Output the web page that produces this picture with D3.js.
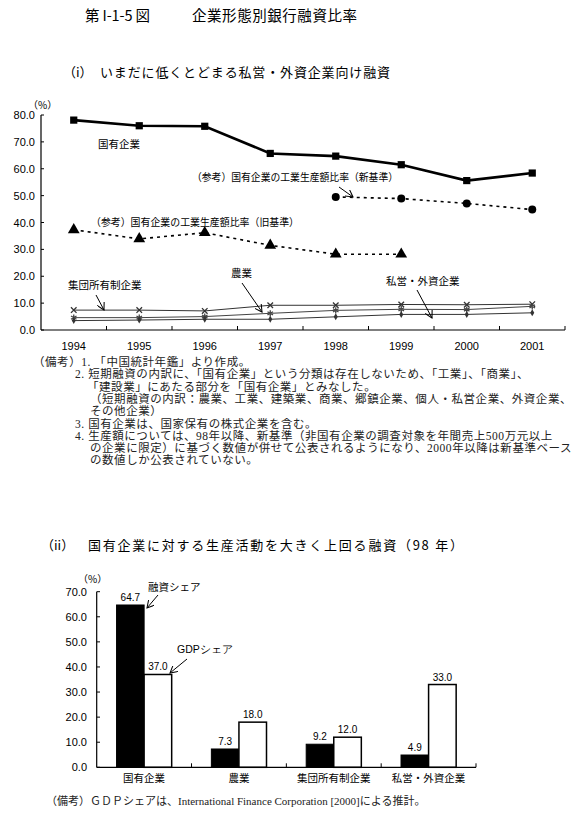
<!DOCTYPE html>
<html><head><meta charset="utf-8">
<script src="https://cdn.jsdelivr.net/npm/d3@7"></script>
<style>
body{margin:0;background:#fff;}
svg{display:block;}
.jp{font-family:"Noto Sans CJK JP","Noto Sans",sans-serif;}
.num{font-family:"Liberation Sans",Arial,sans-serif;}
.serif{font-family:"Liberation Serif","Noto Sans CJK JP",serif;}
</style></head>
<body>
<script>
// ---------- data ----------
const years = ["1994","1995","1996","1997","1998","1999","2000","2001"];
const stateOwned = [78.1, 76.0, 75.8, 65.7, 64.7, 61.5, 55.6, 58.4];
const newStandard = [null, null, null, null, 49.5, 48.9, 47.1, 44.8];
const oldStandard = [37.3, 33.9, 36.2, 31.5, 28.2, 28.2, null, null];
const collective = [7.4, 7.4, 7.1, 9.2, 9.2, 9.5, 9.4, 9.6];
const agriculture = [4.6, 4.6, 5.0, 6.2, 7.3, 7.7, 7.6, 8.8];
const privateForeign = [3.5, 3.7, 4.0, 4.0, 4.9, 5.8, 5.8, 6.4];
const yTicksTop = [0, 10, 20, 30, 40, 50, 60, 70, 80];

const barCategories = ["国有企業", "農業", "集団所有制企業", "私営・外資企業"];
const loanShare = [64.7, 7.3, 9.2, 4.9];
const gdpShare = [37.0, 18.0, 12.0, 33.0];
const yTicksBottom = [0, 10, 20, 30, 40, 50, 60, 70];

const notes = [
  "（備考）1. 「中国統計年鑑」より作成。",
  "2. 短期融資の内訳に、「国有企業」という分類は存在しないため、「工業」、「商業」、",
  "「建設業」にあたる部分を「国有企業」とみなした。",
  "（短期融資の内訳：農業、工業、建築業、商業、郷鎮企業、個人・私営企業、外資企業、",
  "その他企業）",
  "3. 国有企業は、国家保有の株式企業を含む。",
  "4. 生産額については、98年以降、新基準（非国有企業の調査対象を年間売上500万元以上",
  "の企業に限定）に基づく数値が併せて公表されるようになり、2000年以降は新基準ベース",
  "の数値しか公表されていない。"
];

// ---------- svg ----------
const svg = d3.select("body").append("svg").attr("width",581).attr("height",820);
const defs = svg.append("defs");
defs.append("marker").attr("id","arr").attr("viewBox","0 0 10 10").attr("refX",9).attr("refY",5)
  .attr("markerWidth",8).attr("markerHeight",8).attr("markerUnits","userSpaceOnUse").attr("orient","auto")
  .append("path").attr("d","M0,0 L9,5 L0,10").attr("fill","none").attr("stroke","#000").attr("stroke-width",1.3);

// titles
svg.append("text").attr("class","jp").attr("x",85).attr("y",21).attr("font-size",14.5)
  .attr("textLength",65).attr("lengthAdjust","spacing").text("第 I-1-5 図");
svg.append("text").attr("class","jp").attr("x",192).attr("y",21).attr("font-size",14.5)
  .attr("textLength",165).attr("lengthAdjust","spacing").text("企業形態別銀行融資比率");
svg.append("text").attr("class","jp").attr("x",63).attr("y",77).attr("font-size",13).text("（i）");
svg.append("text").attr("class","jp").attr("x",100).attr("y",77).attr("font-size",13)
  .attr("textLength",290).attr("lengthAdjust","spacing").text("いまだに低くとどまる私営・外資企業向け融資");

// ---------- top chart ----------
const x = d3.scaleBand().domain(years).range([41,565]);
const y = d3.scaleLinear().domain([0,80]).range([330,115]);
const gTop = svg.append("g");

gTop.append("line").attr("x1",41).attr("x2",41).attr("y1",y(80)).attr("y2",y(0)).attr("stroke","#000").attr("stroke-width",1.2);
gTop.append("line").attr("x1",41).attr("x2",565).attr("y1",y(0)).attr("y2",y(0)).attr("stroke","#000").attr("stroke-width",1.2);
gTop.selectAll(".xt").data(years).enter().append("line")
  .attr("x1",d=>x(d)+x.bandwidth()).attr("x2",d=>x(d)+x.bandwidth())
  .attr("y1",y(0)).attr("y2",y(0)-4).attr("stroke","#000");
gTop.selectAll(".yt").data(yTicksTop).enter().append("line")
  .attr("x1",41).attr("x2",44).attr("y1",d=>y(d)).attr("y2",d=>y(d)).attr("stroke","#000");
gTop.selectAll(".yl").data(yTicksTop).enter().append("text").attr("class","num")
  .attr("x",35).attr("y",d=>y(d)+4).attr("text-anchor","end").attr("font-size",11).text(d=>d.toFixed(1));
gTop.selectAll(".xl").data(years).enter().append("text").attr("class","num")
  .attr("x",d=>x(d)+x.bandwidth()/2).attr("y",350).attr("text-anchor","middle").attr("font-size",11).text(d=>d);
gTop.append("text").attr("class","jp").attr("x",28).attr("y",109).attr("font-size",10).text("（%）");

const cx = (d,i)=>x(years[i])+x.bandwidth()/2;
function series(vals, opts){
  const pts = vals.map((v,i)=>v==null?null:[cx(v,i), y(v)]).filter(p=>p);
  gTop.append("path").attr("d", d3.line()(pts)).attr("fill","none")
    .attr("stroke",opts.color||"#000").attr("stroke-width",opts.w)
    .attr("stroke-dasharray",opts.dash||null);
  const sym = d3.symbol().type(opts.sym).size(opts.size);
  gTop.selectAll(null).data(pts).enter().append("path")
    .attr("transform",p=>`translate(${p[0]},${p[1]})`).attr("d",sym())
    .attr("fill",opts.fill).attr("stroke",opts.stroke||"none").attr("stroke-width",opts.sw||1);
}
series(collective,{w:1,color:"#333",sym:d3.symbolX,size:22,fill:"none",stroke:"#333",sw:1.3});
series(agriculture,{w:1,color:"#444",sym:d3.symbolAsterisk,size:28,fill:"none",stroke:"#444",sw:1.3});
series(privateForeign,{w:1,color:"#333",sym:d3.symbolDiamond,size:14,fill:"#333"});
series(oldStandard,{w:1.6,dash:"3,4",sym:d3.symbolTriangle,size:60,fill:"#000"});
series(newStandard,{w:1.6,dash:"3,4",sym:d3.symbolCircle,size:50,fill:"#000"});
series(stateOwned,{w:2.6,sym:d3.symbolSquare,size:52,fill:"#000"});

const ann = [
  {t:"国有企業", x:98, y:148},
  {t:"（参考）国有企業の工業生産額比率（新基準）", x:192, y:181, len:206},
  {t:"（参考）国有企業の工業生産額比率（旧基準）", x:91, y:226, len:208},
  {t:"集団所有制企業", x:68, y:289},
  {t:"農業", x:231, y:277},
  {t:"私営・外資企業", x:386, y:285}
];
ann.forEach(a=>{
  const t = gTop.append("text").attr("class","jp").attr("x",a.x).attr("y",a.y).attr("font-size",10.5).text(a.t);
  if(a.len) t.attr("textLength",a.len).attr("lengthAdjust","spacingAndGlyphs");
});
const arrows = [[339,187,353,197],[96,295,104,310],[242,283,262,312],[417,290,432,318]];
gTop.selectAll(".ar").data(arrows).enter().append("line")
  .attr("x1",d=>d[0]).attr("y1",d=>d[1]).attr("x2",d=>d[2]).attr("y2",d=>d[3])
  .attr("stroke","#000").attr("stroke-width",1).attr("marker-end","url(#arr)");

// notes
const noteX = [33,75,87,90,90,75,75,90,90];
svg.selectAll(".note").data(notes).enter().append("text").attr("class","serif")
  .attr("x",(d,i)=>noteX[i]).attr("y",(d,i)=>366+i*12.3).attr("font-size",11.5)
  .attr("letter-spacing",0.55).attr("fill","#222").text(d=>d);

// ---------- bottom chart ----------
svg.append("text").attr("class","jp").attr("x",41).attr("y",550).attr("font-size",13).text("（ii）");
svg.append("text").attr("class","jp").attr("x",88).attr("y",550).attr("font-size",13)
  .attr("textLength",375).attr("lengthAdjust","spacing").text("国有企業に対する生産活動を大きく上回る融資（98 年）");

const xb = d3.scaleBand().domain(barCategories).range([96.7,476]);
const xs = d3.scaleBand().domain(["loan","gdp"]).range([0,xb.bandwidth()]).paddingOuter(0.72);
const yb = d3.scaleLinear().domain([0,70]).range([767.3,591.7]);
const bot = svg.append("g");

bot.selectAll(".bl").data(barCategories).enter().append("rect")
  .attr("x",d=>xb(d)+xs("loan")).attr("width",xs.bandwidth())
  .attr("y",(d,i)=>yb(loanShare[i])).attr("height",(d,i)=>yb(0)-yb(loanShare[i]))
  .attr("fill","#000").attr("stroke","#000");
bot.selectAll(".bg").data(barCategories).enter().append("rect")
  .attr("x",d=>xb(d)+xs("gdp")).attr("width",xs.bandwidth())
  .attr("y",(d,i)=>yb(gdpShare[i])).attr("height",(d,i)=>yb(0)-yb(gdpShare[i]))
  .attr("fill","#fff").attr("stroke","#000").attr("stroke-width",1.5);
bot.selectAll(".vl").data(barCategories).enter().append("text").attr("class","num")
  .attr("x",d=>xb(d)+xs("loan")+xs.bandwidth()/2).attr("y",(d,i)=>yb(loanShare[i])-4)
  .attr("text-anchor","middle").attr("font-size",10).text((d,i)=>loanShare[i].toFixed(1));
bot.selectAll(".vg").data(barCategories).enter().append("text").attr("class","num")
  .attr("x",d=>xb(d)+xs("gdp")+xs.bandwidth()/2).attr("y",(d,i)=>yb(gdpShare[i])-4)
  .attr("text-anchor","middle").attr("font-size",10).text((d,i)=>gdpShare[i].toFixed(1));

bot.append("line").attr("x1",96.7).attr("x2",96.7).attr("y1",yb(70)).attr("y2",yb(0)).attr("stroke","#000").attr("stroke-width",1.2);
bot.append("line").attr("x1",96.7).attr("x2",476).attr("y1",yb(0)).attr("y2",yb(0)).attr("stroke","#000").attr("stroke-width",1.2);
bot.selectAll(".yt").data(yTicksBottom).enter().append("line")
  .attr("x1",96.7).attr("x2",100).attr("y1",d=>yb(d)).attr("y2",d=>yb(d)).attr("stroke","#000");
bot.selectAll(".xt").data(barCategories).enter().append("line")
  .attr("x1",d=>xb(d)+xb.bandwidth()).attr("x2",d=>xb(d)+xb.bandwidth())
  .attr("y1",yb(0)).attr("y2",yb(0)-4).attr("stroke","#000");
bot.selectAll(".yl").data(yTicksBottom).enter().append("text").attr("class","num")
  .attr("x",87).attr("y",d=>yb(d)+4).attr("text-anchor","end").attr("font-size",11).text(d=>d.toFixed(1));
bot.selectAll(".xl").data(barCategories).enter().append("text").attr("class","jp")
  .attr("x",d=>xb(d)+xb.bandwidth()/2).attr("y",782).attr("text-anchor","middle").attr("font-size",10.5).text(d=>d);
bot.append("text").attr("class","jp").attr("x",78).attr("y",583).attr("font-size",10).text("（%）");
bot.append("text").attr("class","jp").attr("x",148).attr("y",591).attr("font-size",10.5).text("融資シェア");
bot.append("text").attr("class","num").attr("x",177).attr("y",653).attr("font-size",10.5).text("GDPシェア");
bot.selectAll(".ar").data([[158,595,147,608],[187,659,170,673]]).enter().append("line")
  .attr("x1",d=>d[0]).attr("y1",d=>d[1]).attr("x2",d=>d[2]).attr("y2",d=>d[3])
  .attr("stroke","#000").attr("stroke-width",1).attr("marker-end","url(#arr)");

svg.append("text").attr("class","serif").attr("x",46).attr("y",805).attr("font-size",11).attr("fill","#222")
  .text("（備考）ＧＤＰシェアは、International Finance Corporation [2000]による推計。");
</script>
</body></html>
